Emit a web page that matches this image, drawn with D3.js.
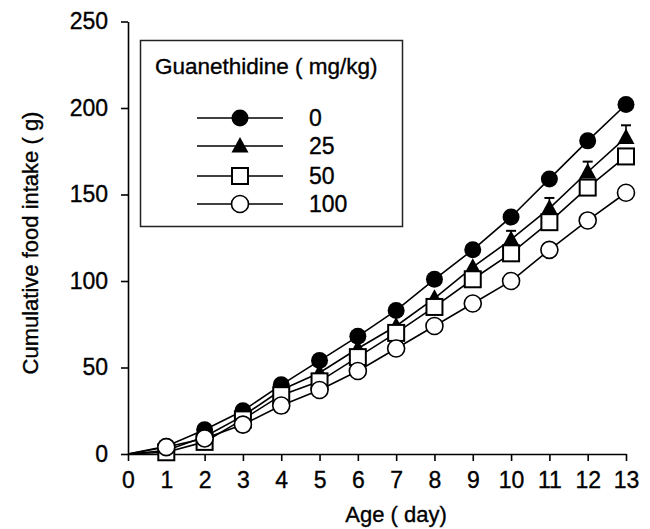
<!DOCTYPE html>
<html>
<head>
<meta charset="utf-8">
<script src="https://cdn.jsdelivr.net/npm/d3@7"></script>
<style>
  body { margin: 0; background: #fff; }
  svg { font-family: "Liberation Sans", Arial, sans-serif; }
  svg text { fill: #000; stroke: #000; stroke-width: 0.35px; }
</style>
</head>
<body>
<svg id="chart" width="650" height="529"></svg>
<script>
const days = [0, 1, 2, 3, 4, 5, 6, 7, 8, 9, 10, 11, 12, 13];
const dose0 = [0, 4.5, 14, 25, 40, 54, 68, 83, 101, 118, 137, 159, 181, 202];
const dose25 = [0, 2, 10, 22, 37, 47, 61, 74, 90, 108, 124, 142, 163, 183];
const dose50 = [0, 1, 7, 20, 34, 42, 56, 70, 85, 101, 116, 134, 154, 172];
const dose100 = [0, 4, 9, 17, 28, 37, 48, 61, 74, 87, 100, 118, 135, 151];
const err25 = [0, 0, 0, 0, 0, 0, 0, 0, 0, 0, 5, 6, 6, 7];
const doseLabels = ['0', '25', '50', '100'];
const xTicks = days;
const yTicks = [0, 50, 100, 150, 200, 250];

const svg = d3.select('#chart');

const x = d3.scaleLinear().domain([0, 13]).range([128, 626]);
const y = d3.scaleLinear().domain([0, 250]).range([454, 21.5]);

// series, listed in drawing order (lowest first)
const series = [
  { label: doseLabels[1], values: dose25, err: err25, shape: 'triangle' },
  { label: doseLabels[0], values: dose0, shape: 'dot' },
  { label: doseLabels[2], values: dose50, shape: 'square' },
  { label: doseLabels[3], values: dose100, shape: 'circle' }
];

function drawMarker(g, shape, cx, cy) {
  if (shape === 'dot') {
    g.append('circle').attr('cx', cx).attr('cy', cy).attr('r', 8.5)
      .attr('fill', '#000');
  } else if (shape === 'circle') {
    g.append('circle').attr('cx', cx).attr('cy', cy).attr('r', 8.5)
      .attr('fill', '#fff').attr('stroke', '#000').attr('stroke-width', 1.6);
  } else if (shape === 'square') {
    g.append('rect').attr('x', cx - 8).attr('y', cy - 8).attr('width', 16).attr('height', 16)
      .attr('fill', '#fff').attr('stroke', '#000').attr('stroke-width', 2);
  } else {
    g.append('path')
      .attr('d', `M${cx},${cy - 9}L${cx + 8.5},${cy + 6.5}L${cx - 8.5},${cy + 6.5}Z`)
      .attr('fill', '#000');
  }
}

// axes
const xAxis = d3.axisBottom(x).tickValues(xTicks).tickSize(7).tickPadding(11).tickSizeOuter(0);
const yAxis = d3.axisLeft(y).tickValues(yTicks).tickSize(7).tickPadding(13).tickSizeOuter(0);

svg.append('g')
  .attr('transform', `translate(0,${y(0)})`)
  .call(xAxis)
  .call(g => g.selectAll('path, line').attr('stroke', '#000').attr('stroke-width', 1.6))
  .selectAll('text')
  .style('font-size', '23px');

svg.append('g')
  .attr('transform', `translate(${x(0)},0)`)
  .call(yAxis)
  .call(g => g.selectAll('path, line').attr('stroke', '#000').attr('stroke-width', 1.6))
  .selectAll('text')
  .style('font-size', '23px');

// axis titles
svg.append('text')
  .attr('x', 396)
  .attr('y', 522)
  .attr('text-anchor', 'middle')
  .style('font-size', '22px')
  .text('Age ( day)');

svg.append('text')
  .attr('transform', `translate(38, 243) rotate(-90)`)
  .attr('text-anchor', 'middle')
  .style('font-size', '22px')
  .text('Cumulative food intake ( g)');

// lines and markers
const line = d3.line()
  .x((d, i) => x(days[i]))
  .y(d => y(d));

series.forEach(s => {
  svg.append('path')
    .attr('d', line(s.values))
    .attr('fill', 'none')
    .attr('stroke', '#000')
    .attr('stroke-width', 1.6);
});

series.forEach(s => {
  const g = svg.append('g');
  s.values.forEach((v, i) => {
    if (days[i] === 0) return;
    if (s.err && s.err[i] > 0) {
      g.append('line')
        .attr('x1', x(days[i])).attr('x2', x(days[i]))
        .attr('y1', y(v)).attr('y2', y(v + s.err[i]))
        .attr('stroke', '#000').attr('stroke-width', 1.6);
      g.append('line')
        .attr('x1', x(days[i]) - 5).attr('x2', x(days[i]) + 5)
        .attr('y1', y(v + s.err[i])).attr('y2', y(v + s.err[i]))
        .attr('stroke', '#000').attr('stroke-width', 2);
    }
    drawMarker(g, s.shape, x(days[i]), y(v));
  });
});

// legend
const legend = svg.append('g');
legend.append('rect')
  .attr('x', 140.5).attr('y', 40.5)
  .attr('width', 262).attr('height', 186)
  .attr('fill', '#fff')
  .attr('stroke', '#222')
  .attr('stroke-width', 1.5);

legend.append('text')
  .attr('x', 155).attr('y', 74)
  .style('font-size', '22.5px')
  .text('Guanethidine ( mg/kg)');

const legendOrder = ['dot', 'triangle', 'square', 'circle'];
const legendY = [118, 146, 176, 204];
legendOrder.forEach((shape, i) => {
  legend.append('line')
    .attr('x1', 197).attr('x2', 283)
    .attr('y1', legendY[i]).attr('y2', legendY[i])
    .attr('stroke', '#000').attr('stroke-width', 1.6);
  drawMarker(legend, shape, 240, legendY[i]);
  legend.append('text')
    .attr('x', 309).attr('y', legendY[i])
    .attr('dy', '0.36em')
    .style('font-size', '23px')
    .text(doseLabels[i]);
});
</script>
</body>
</html>
